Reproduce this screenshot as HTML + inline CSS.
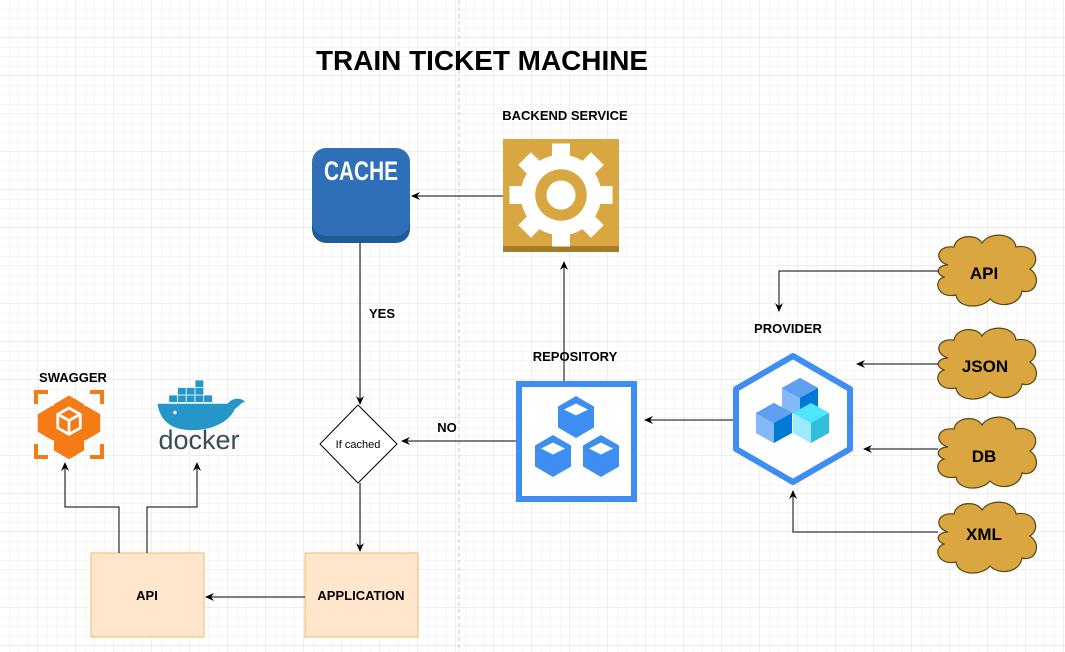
<!DOCTYPE html>
<html><head><meta charset="utf-8"><style>
html,body{margin:0;padding:0;background:#fff}
svg{display:block}
text{font-family:"Liberation Sans",Arial,sans-serif;font-weight:bold;fill:#000}
</style></head><body>
<svg width="1065" height="652" viewBox="0 0 1065 652" xmlns="http://www.w3.org/2000/svg">
<defs>
<pattern id="minor" width="9.5" height="9.5" patternUnits="userSpaceOnUse"><path d="M9.5 0V9.5H0" fill="none" stroke="#ececec" stroke-width="1"/></pattern>
<pattern id="major" width="38" height="38" patternUnits="userSpaceOnUse"><rect width="38" height="38" fill="url(#minor)"/><path d="M38 0V38H0" fill="none" stroke="#dcdcdc" stroke-width="1"/></pattern>
<marker id="ar" markerWidth="10" markerHeight="10" refX="8" refY="5" orient="auto" markerUnits="userSpaceOnUse"><path d="M0,1 L9,5 L0,9 L3,5 Z" fill="#000"/></marker>
<g id="cloud"><path d="M-38,-8 C-52,-12 -50,-28 -32,-26 C-30,-38 -10,-40 -4,-30 C4,-42 28,-40 30,-26 C48,-30 56,-12 44,-4 C56,4 50,22 36,18 C34,32 14,36 4,26 C-4,36 -28,36 -30,22 C-48,26 -54,8 -42,4 C-52,0 -48,-8 -38,-8 Z" fill="#d9a63f" stroke="#5a4514" stroke-width="1.2"/></g>
<g id="cube"><path d="M0,-14 L12,-7 L12,7 L0,14 L-12,7 L-12,-7 Z" fill="#3d8ef0"/><path d="M0,-9 L8,-5 L0,-1 L-8,-5 Z" fill="#fff"/></g>
</defs>
<rect width="1065" height="652" fill="url(#major)"/>
<line x1="459" y1="0" x2="459" y2="652" stroke="#c8c8c8" stroke-dasharray="4,3"/>

<text x="482" y="70" font-size="28" text-anchor="middle" textLength="332" lengthAdjust="spacingAndGlyphs">TRAIN TICKET MACHINE</text>

<!-- cache -->
<rect x="312" y="153" width="98" height="90" rx="14" fill="#1f5a99"/>
<rect x="312" y="148" width="98" height="88" rx="14" fill="#2e6fb7"/>
<text x="361" y="180" font-size="27" text-anchor="middle" style="fill:#fff" textLength="74" lengthAdjust="spacingAndGlyphs">CACHE</text>

<!-- backend -->
<text x="565" y="120" font-size="13" text-anchor="middle">BACKEND SERVICE</text>
<rect x="503" y="139" width="116" height="113" fill="#d9a741"/>
<rect x="503" y="246" width="116" height="6" fill="#a67c2a"/>
<g transform="translate(561,195) scale(1.12)" fill="#fff">
<g id="tooth"><rect x="-8" y="-46" width="16" height="14"/></g>
<use href="#tooth" transform="rotate(45)"/><use href="#tooth" transform="rotate(90)"/><use href="#tooth" transform="rotate(135)"/><use href="#tooth" transform="rotate(180)"/><use href="#tooth" transform="rotate(225)"/><use href="#tooth" transform="rotate(270)"/><use href="#tooth" transform="rotate(315)"/>
<circle r="36"/><circle r="23" fill="#d9a741"/><circle r="13"/>
</g>
<line x1="503" y1="196" x2="412" y2="196" stroke="#000" marker-end="url(#ar)"/>

<!-- cache to diamond -->
<line x1="360" y1="243" x2="360" y2="404" stroke="#000" marker-end="url(#ar)"/>
<text x="382" y="318" font-size="13" text-anchor="middle">YES</text>
<polygon points="358,405 397,444 358,483 320,444" fill="#fff" stroke="#000"/>
<text x="358" y="448" font-size="11" text-anchor="middle" style="font-weight:normal">If cached</text>
<line x1="360" y1="483" x2="360" y2="551" stroke="#000" marker-end="url(#ar)"/>

<!-- application / api -->
<rect x="305" y="553" width="113" height="84" fill="#ffe6cc" stroke="#e8c06a"/>
<text x="361" y="600" font-size="13" text-anchor="middle">APPLICATION</text>
<rect x="91" y="553" width="113" height="84" fill="#ffe6cc" stroke="#e8c06a"/>
<text x="147" y="600" font-size="13" text-anchor="middle">API</text>
<line x1="305" y1="597" x2="206" y2="597" stroke="#000" marker-end="url(#ar)"/>
<polyline points="119,553 119,507 65,507 65,463" fill="none" stroke="#000" marker-end="url(#ar)"/>
<polyline points="147,553 147,507 197,507 197,463" fill="none" stroke="#000" marker-end="url(#ar)"/>

<!-- swagger -->
<text x="73" y="382" font-size="13" text-anchor="middle">SWAGGER</text>
<g fill="none" stroke="#f47b16" stroke-width="4">
<path d="M36,404 V392 H48 M90,392 H102 V404 M102,444 V457 H90 M48,457 H36 V444"/>
</g>
<g transform="translate(69,428) scale(1.25) translate(-69,-428)">
<g fill="#f47b16">
<path d="M69,402 L81,409 L81,423 L69,430 L57,423 L57,409 Z"/>
<path d="M56,410 L68,417 L68,431 L56,438 L44,431 L44,417 Z"/>
<path d="M82,410 L94,417 L94,431 L82,438 L70,431 L70,417 Z"/>
<path d="M69,425 L81,432 L81,446 L69,453 L57,446 L57,432 Z"/>
</g>
<path d="M69,412 L78,417 L78,428 L69,433 L60,428 L60,417 Z M60,417 L69,422 L78,417 M69,422 V433" fill="none" stroke="#fff" stroke-width="2.2"/>
</g>

<!-- docker -->
<g transform="translate(200,410) scale(1.25) translate(-200,-410)">
<g fill="#2496c8" stroke="#fff" stroke-width="0.6">
<rect x="175" y="398" width="7" height="6"/><rect x="182" y="398" width="7" height="6"/><rect x="189" y="398" width="7" height="6"/><rect x="196" y="398" width="7" height="6"/><rect x="203" y="398" width="7" height="6"/>
<rect x="182" y="392" width="7" height="6"/><rect x="189" y="392" width="7" height="6"/><rect x="196" y="392" width="7" height="6"/>
<rect x="196" y="386" width="7" height="6"/>
</g>
<path d="M166,405 H222 C226,400 232,400 236,403 C232,405 230,408 228,409 C222,422 205,427 190,426 C176,425 168,418 166,405 Z" fill="#2496c8"/>
<circle cx="180" cy="412" r="1.4" fill="#fff"/>
</g>
<text x="199" y="449" font-size="27" text-anchor="middle" style="font-weight:normal;fill:#394d54">docker</text>

<!-- repository -->
<text x="575" y="361" font-size="13" text-anchor="middle">REPOSITORY</text>
<rect x="519" y="384" width="115" height="115" fill="#fff" stroke="#3d8ef0" stroke-width="6"/>
<use href="#cube" transform="translate(576,417) scale(1.5)"/>
<use href="#cube" transform="translate(553,456) scale(1.5)"/>
<use href="#cube" transform="translate(601,456) scale(1.5)"/>
<line x1="564" y1="381" x2="564" y2="262" stroke="#000" marker-end="url(#ar)"/>
<line x1="516" y1="441" x2="402" y2="441" stroke="#000" marker-end="url(#ar)"/>
<text x="447" y="432" font-size="13" text-anchor="middle">NO</text>

<!-- provider -->
<text x="788" y="333" font-size="13" text-anchor="middle">PROVIDER</text>
<path d="M793,356 L850,389 L850,449 L793,482 L736,449 L736,389 Z" fill="#fff" stroke="#3d8ef0" stroke-width="6" stroke-linejoin="round"/>
<g>
<path d="M800,378 L818,388 L818,408 L800,418 L782,408 L782,388 Z" fill="#0078d4"/><path d="M800,378 L818,388 L800,398 L782,388 Z" fill="#5ea0ef"/><path d="M782,388 L800,398 L800,418 L782,408 Z" fill="#83b9f9"/>
<path d="M774,403 L792,413 L792,433 L774,443 L756,433 L756,413 Z" fill="#0078d4"/><path d="M774,403 L792,413 L774,423 L756,413 Z" fill="#5ea0ef"/><path d="M756,413 L774,423 L774,443 L756,433 Z" fill="#83b9f9"/>
<path d="M811,403 L829,413 L829,433 L811,443 L793,433 L793,413 Z" fill="#32bedd"/><path d="M811,403 L829,413 L811,423 L793,413 Z" fill="#50e6ff"/><path d="M793,413 L811,423 L811,443 L793,433 Z" fill="#9cebff"/>
</g>
<line x1="733" y1="420" x2="645" y2="420" stroke="#000" marker-end="url(#ar)"/>

<!-- clouds -->
<use href="#cloud" transform="translate(986,273)"/>
<text x="984" y="279" font-size="17" text-anchor="middle">API</text>
<use href="#cloud" transform="translate(986,366)"/>
<text x="985" y="372" font-size="17" text-anchor="middle">JSON</text>
<use href="#cloud" transform="translate(986,455)"/>
<text x="984" y="462" font-size="17" text-anchor="middle">DB</text>
<use href="#cloud" transform="translate(986,540)"/>
<text x="984" y="540" font-size="17" text-anchor="middle">XML</text>

<polyline points="938,271 779,271 779,311" fill="none" stroke="#000" marker-end="url(#ar)"/>
<line x1="938" y1="364" x2="857" y2="364" stroke="#000" marker-end="url(#ar)"/>
<line x1="938" y1="449" x2="864" y2="449" stroke="#000" marker-end="url(#ar)"/>
<polyline points="938,532 793,532 793,491" fill="none" stroke="#000" marker-end="url(#ar)"/>
</svg>
</body></html>
